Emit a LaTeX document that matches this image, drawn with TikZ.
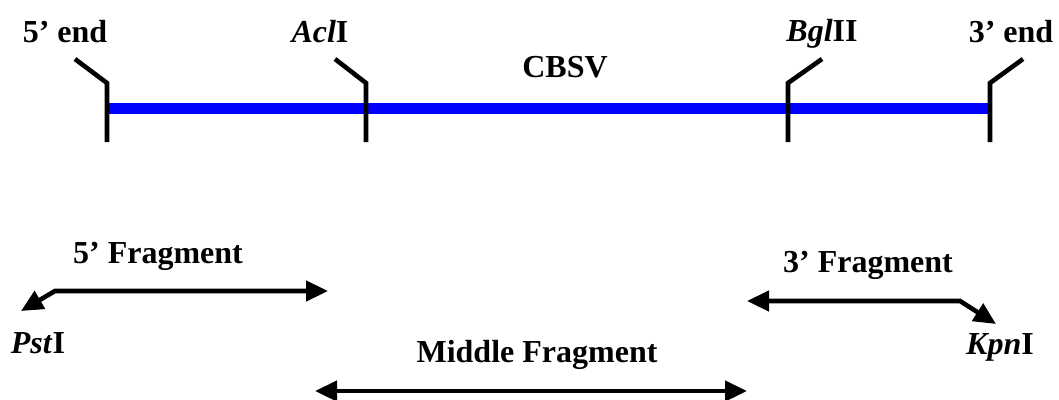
\documentclass[tikz,border=0pt]{standalone}
\usepackage{fontspec}
\setmainfont{Liberation Serif}
\usetikzlibrary{arrows.meta}
\begin{document}
\begin{tikzpicture}[x=1pt,y=-1pt,
  lbl/.style={font=\fontsize{32}{36}\selectfont\bfseries, anchor=base, inner sep=0pt},
  tick/.style={line width=4.6pt, black},
  fragboth/.style={line width=4.6pt, black, arrows={Triangle[length=22pt,width=20pt]-Triangle[length=22pt,width=20pt]}}]
\useasboundingbox (0,0) rectangle (1059,399);
% genome
\coordinate (g5) at (108,108);
\coordinate (g3) at (990,108);
\draw[line width=11pt, blue] (g5) -- (g3);
% ticks
\foreach \n/\x/\dx in {t5/107/-32, tacl/366/-31, tbgl/788/34, t3/990/33} {
  \coordinate (\n top) at (\x,83);
  \coordinate (\n bot) at (\x,142);
  \coordinate (\n flag) at (\x+\dx,59);
  \draw[tick] (\n flag) -- (\n top) -- (\n bot);
}
% labels
\node[lbl] (l5) at (65,42) {5’ end};
\node[lbl] (lacl) at (320,42) {\textit{Acl}I};
\node[lbl] (lbgl) at (822,41) {\textit{Bgl}II};
\node[lbl] (l3) at (1011,42) {3’ end};
\node[lbl] (cbsv) at (565,77) {CBSV};
% 5' fragment
\node[lbl] (f5) at (158,263) {5’ Fragment};
\coordinate (a5r) at (328,291);
\coordinate (a5c) at (55,291);
\coordinate (a5t) at (21,311);
\draw[fragboth] (a5t) -- (a5c) -- (a5r);
\node[lbl] (pst) at (38,353) {\textit{Pst}I};
% 3' fragment
\node[lbl] (f3) at (868,272) {3’ Fragment};
\coordinate (a3l) at (747,301);
\coordinate (a3c) at (960,301);
\coordinate (a3t) at (996,324);
\draw[fragboth] (a3l) -- (a3c) -- (a3t);
\node[lbl] (kpn) at (1000,354) {\textit{Kpn}I};
% middle fragment
\node[lbl] (fm) at (537,362) {Middle Fragment};
\coordinate (aml) at (315,391);
\coordinate (amr) at (747,391);
\draw[fragboth] (aml) -- (amr);
\end{tikzpicture}
\end{document}
